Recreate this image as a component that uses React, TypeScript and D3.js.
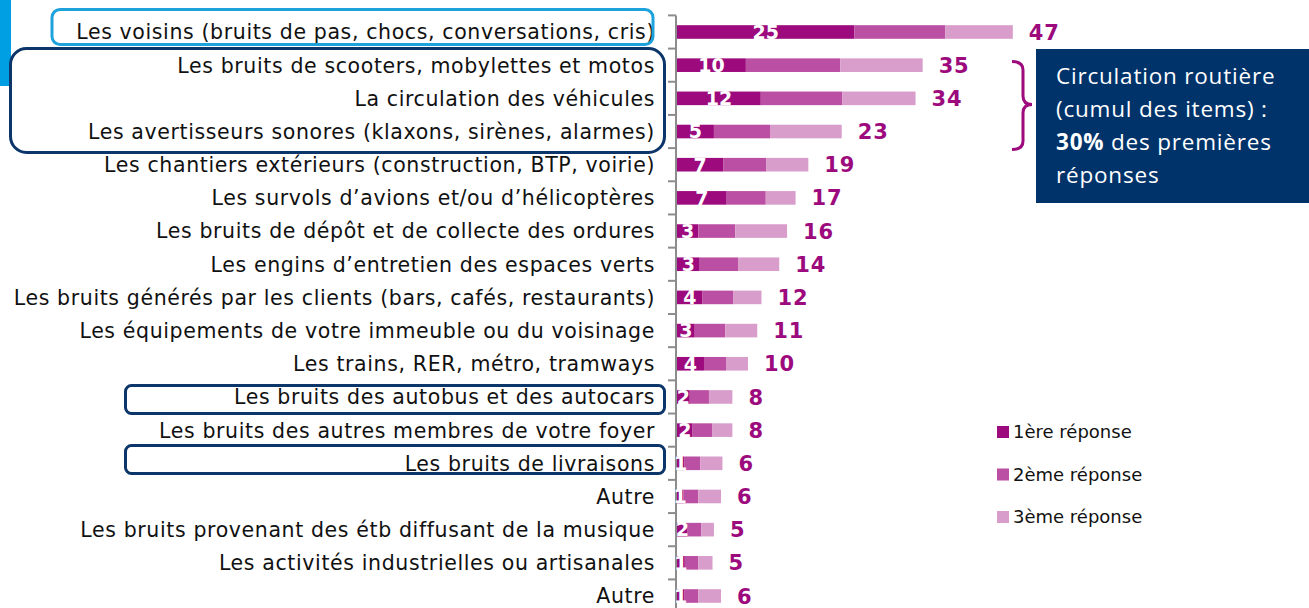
import * as d3 from 'd3';

const categories = [
  'Les voisins (bruits de pas, chocs, conversations, cris)',
  'Les bruits de scooters, mobylettes et motos',
  'La circulation des véhicules',
  'Les avertisseurs sonores (klaxons, sirènes, alarmes)',
  'Les chantiers extérieurs (construction, BTP, voirie)',
  'Les survols d’avions et/ou d’hélicoptères',
  'Les bruits de dépôt et de collecte des ordures',
  'Les engins d’entretien des espaces verts',
  'Les bruits générés par les clients (bars, cafés, restaurants)',
  'Les équipements de votre immeuble ou du voisinage',
  'Les trains, RER, métro, tramways',
  'Les bruits des autobus et des autocars',
  'Les bruits des autres membres de votre foyer',
  'Les bruits de livraisons',
  'Autre',
  'Les bruits provenant des étb diffusant de la musique',
  'Les activités industrielles ou artisanales',
  'Autre',
];

const first = [25.0, 9.7, 11.8, 5.2, 6.5, 7.0, 3.0, 3.2, 3.6, 2.5, 3.8, 1.8, 2.2, 1.0, 0.9, 1.5, 1.1, 1.0];
const second = [12.8, 13.3, 11.5, 7.9, 6.1, 5.5, 5.2, 5.4, 4.3, 4.3, 3.1, 2.7, 2.8, 2.3, 2.1, 1.9, 1.9, 2.0];
const third = [9.5, 11.6, 10.3, 10.1, 5.9, 4.2, 7.3, 5.8, 4.0, 4.5, 3.1, 3.3, 2.8, 3.1, 3.2, 1.8, 2.0, 3.2];
const firstLabels = [25, 10, 12, 5, 7, 7, 3, 3, 4, 3, 4, 2, 2, 1, 1, 2, 1, 1];
const totalLabels = [47, 35, 34, 23, 19, 17, 16, 14, 12, 11, 10, 8, 8, 6, 6, 5, 5, 6];

const seriesNames = ['1ère réponse', '2ème réponse', '3ème réponse'];
const colors = ['#9c0a7d', '#ba4fa3', '#d89dcb'];

const W = 1309;
const H = 608;
const font = 'Verdana, "DejaVu Sans", sans-serif';

export default function App() {
  const idx = categories.map((_, i) => String(i));
  const y = d3.scaleBand().domain(idx).range([15.4, 612.6]).paddingInner(0.59).paddingOuter(0.295);
  const x = d3.scaleLinear().domain([0, 50]).range([677, 677 + 50 * 7.1]);

  const rows = categories.map((c, i) => ({ '0': first[i], '1': second[i], '2': third[i] }));
  const stack = d3.stack<any>().keys(['0', '1', '2'])(rows);

  const step = y.step();
  const y0 = y.range()[0];
  const ticks = d3.range(categories.length + 1).map((k) => y0 + k * step);
  const cy = (i: number) => (y(String(i)) as number) + y.bandwidth() / 2;

  return (
    <svg width={W} height={H} style={{ position: 'absolute', left: 0, top: 0, background: '#fff' }}>
      {/* blue tab top left */}
      <rect x={0} y={0} width={11} height={86} fill="#009fe3" />

      {/* category labels */}
      <g fontFamily={font} fontSize={20.5} letterSpacing={0.62} fill="#111">
        {categories.map((c, i) => (
          <text key={i} x={655} y={cy(i)} dy="0.36em" textAnchor="end">
            {c}
          </text>
        ))}
      </g>

      {/* axis */}
      <g stroke="#8c8c8c" strokeWidth={2}>
        <line x1={676} x2={676} y1={ticks[0]} y2={H} />
        {ticks.map((t, k) => (
          <line key={k} x1={668} x2={676} y1={t} y2={t} />
        ))}
      </g>

      {/* bars */}
      {stack.map((s, si) => (
        <g key={si} fill={colors[si]}>
          {s.map((d, i) => (
            <rect key={i} x={x(d[0])} y={y(String(i))} width={x(d[1]) - x(d[0])} height={y.bandwidth()} />
          ))}
        </g>
      ))}

      {/* first response labels */}
      <g fontFamily={font} fontSize={19} fontWeight="bold" fill="#fff" textAnchor="middle">
        {firstLabels.map((v, i) => (
          <text key={i} x={(x(0) + x(first[i])) / 2} y={cy(i)} dy="0.36em">
            {v}
          </text>
        ))}
      </g>

      {/* total labels */}
      <g fontFamily={font} fontSize={21} letterSpacing={0.8} fontWeight="bold" fill="#9c0a7d">
        {totalLabels.map((v, i) => (
          <text key={i} x={x(first[i] + second[i] + third[i]) + 16} y={cy(i)} dy="0.36em">
            {v}
          </text>
        ))}
      </g>

      {/* highlight boxes */}
      <rect x={52} y={9.5} width={601} height={35} rx={8} fill="none" stroke="#1ea2dc" strokeWidth={3} />
      <rect x={10.5} y={48.5} width={654} height={104} rx={16} fill="none" stroke="#0c366a" strokeWidth={3} />
      <rect x={125.5} y={385.5} width={539} height={28} rx={6} fill="none" stroke="#0c366a" strokeWidth={3} />
      <rect x={125.5} y={445.5} width={539} height={28} rx={6} fill="none" stroke="#0c366a" strokeWidth={3} />

      {/* bracket */}
      <path
        d="M1012,61.5 Q1023,61.5 1023,70 V96 Q1023,104.5 1032,104.5 Q1023,104.5 1023,113 V141 Q1023,149.5 1012,149.5"
        fill="none"
        stroke="#9c0a7d"
        strokeWidth={3}
      />

      {/* annotation box */}
      <rect x={1036} y={49} width={273} height={154} fill="#00336a" />
      <g fontFamily='"Open Sans", Lato, sans-serif' fontSize={22.5} letterSpacing={0.8} fill="#fff">
        <text x={1056} y={84}>Circulation routière</text>
        <text x={1056} y={117}>(cumul des items) :</text>
        <text x={1056} y={150}>
          <tspan fontWeight="bold">30%</tspan> des premières
        </text>
        <text x={1056} y={183}>réponses</text>
      </g>

      {/* legend */}
      <g fontFamily={font} fontSize={18} fill="#111">
        {seriesNames.map((n, k) => (
          <g key={k} transform={`translate(997,${432 + k * 42.5})`}>
            <rect x={0} y={-6} width={12} height={12} fill={colors[k]} />
            <text x={16} y={0} dy="0.36em">
              {n}
            </text>
          </g>
        ))}
      </g>
    </svg>
  );
}
